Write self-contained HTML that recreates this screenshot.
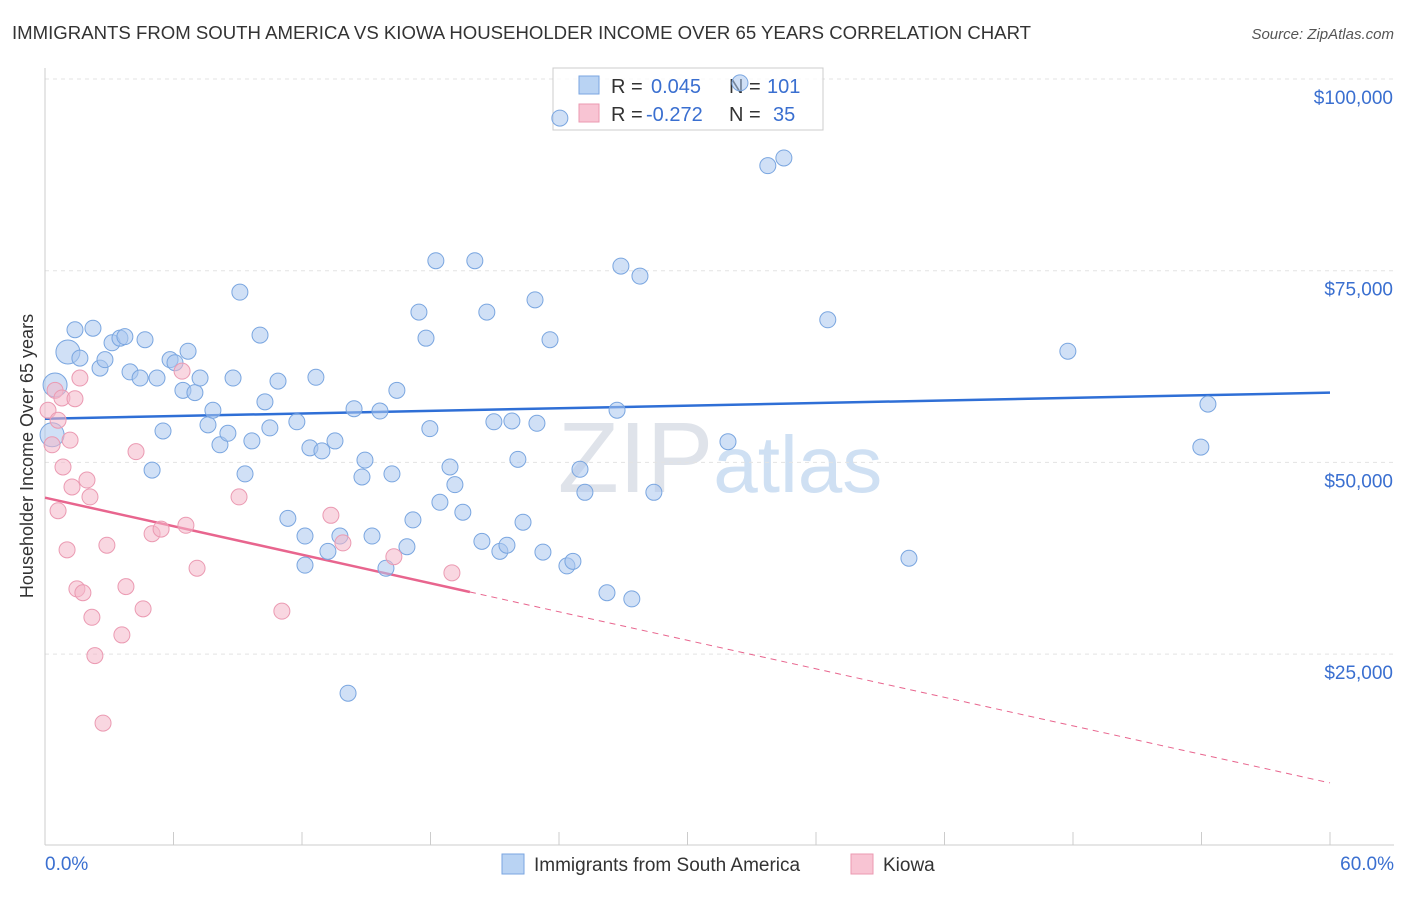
<!DOCTYPE html>
<html><head><meta charset="utf-8"><style>
body{margin:0;background:#fff;font-family:"Liberation Sans",sans-serif}
svg text{font-family:"Liberation Sans",sans-serif}
</style></head><body>
<svg width="1406" height="892" viewBox="0 0 1406 892" xmlns="http://www.w3.org/2000/svg" id="chart">
<text x="12" y="39" font-size="18.6" fill="#333">IMMIGRANTS FROM SOUTH AMERICA VS KIOWA HOUSEHOLDER INCOME OVER 65 YEARS CORRELATION CHART</text>
<text x="1394" y="39" font-size="15" fill="#555" text-anchor="end" font-style="italic">Source: ZipAtlas.com</text>
<text x="33" y="456" font-size="18" fill="#333" text-anchor="middle" transform="rotate(-90 33 456)">Householder Income Over 65 years</text>
<text x="720" y="492" font-size="100" fill="#dfe3ea" text-anchor="middle" font-family="Liberation Serif">ZIP<tspan fill="#cfe0f3" font-family="Liberation Sans" font-size="80">atlas</tspan></text>
<g id="grid"></g><g id="axes"></g>
<g>
<rect x="553" y="68" width="270" height="62" fill="#fff" fill-opacity="0.8" stroke="#ccc"/>
<rect x="579" y="76" width="20" height="18" fill="#b9d3f3" stroke="#7aa6e0"/>
<rect x="579" y="104" width="20" height="18" fill="#f8c4d3" stroke="#eb9ab2"/>
<text x="611" y="93" font-size="20" fill="#333">R =</text>
<text x="651" y="93" font-size="20" fill="#3a6fd0">0.045</text>
<text x="729" y="93" font-size="20" fill="#333">N =</text>
<text x="767" y="93" font-size="20" fill="#3a6fd0">101</text>
<text x="611" y="121" font-size="20" fill="#333">R =</text>
<text x="646" y="121" font-size="20" fill="#3a6fd0">-0.272</text>
<text x="729" y="121" font-size="20" fill="#333">N =</text>
<text x="773" y="121" font-size="20" fill="#3a6fd0">35</text>
</g>
<g id="trends"></g><g id="pts"></g>
<g>
<rect x="502" y="854" width="22" height="20" fill="#b9d3f3" stroke="#7aa6e0"/>
<text x="534" y="871" font-size="19" fill="#333">Immigrants from South America</text>
<rect x="851" y="854" width="22" height="20" fill="#f8c4d3" stroke="#eb9ab2"/>
<text x="883" y="871" font-size="19" fill="#333">Kiowa</text>
</g>
</svg>
<script>
const blueX=[.47,.33,1.07,1.63,1.40,2.24,2.57,2.80,3.13,3.50,3.73,3.97,4.44,4.67,5.23,5.51,5.00,5.84,6.07,6.44,6.68,7.00,7.24,7.61,7.84,8.17,8.54,8.78,9.10,9.34,9.66,10.04,10.27,10.50,10.88,11.34,11.76,12.14,12.14,12.37,12.65,12.93,13.54,13.77,14.15,14.43,13.21,14.80,14.94,15.27,15.64,15.92,16.20,16.43,16.90,17.18,17.46,17.79,17.97,18.25,18.44,18.91,19.14,19.51,20.07,20.40,20.63,20.96,21.24,21.57,21.80,22.08,22.32,22.88,22.97,23.25,23.58,24.04,24.37,24.65,24.98,25.21,26.24,26.71,26.89,27.40,27.78,28.43,31.89,32.45,33.75,34.50,36.55,40.34,47.76,53.97,54.30];
const blueY=[60.1,53.6,64.4,63.6,67.3,67.5,62.3,63.4,65.6,66.2,66.4,61.8,61.0,66.0,61.0,54.1,49.0,63.4,63.0,59.4,64.5,59.1,61.0,54.9,56.8,52.3,53.8,61.0,72.2,48.5,52.8,66.6,57.9,54.5,60.6,42.7,55.3,36.6,40.4,51.9,61.1,51.5,52.8,40.4,19.9,57.0,38.4,48.1,50.3,40.4,56.7,36.2,48.5,59.4,39.0,42.5,69.6,66.2,54.4,76.3,44.8,49.4,47.1,43.5,76.3,39.7,69.6,55.3,38.4,39.2,55.4,50.4,42.2,71.2,55.1,38.3,66.0,94.9,36.5,37.1,49.1,46.1,33.0,56.8,75.6,32.2,74.3,46.1,52.7,99.5,88.7,89.7,68.6,37.5,64.5,52.0,57.6];
const pinkX=[.14,.33,.47,.61,.79,.61,.84,1.03,1.17,1.26,1.40,1.49,1.63,1.77,1.96,2.10,2.19,2.33,2.71,2.89,3.59,3.78,4.25,4.58,5.00,5.42,6.40,6.58,7.10,9.06,11.06,13.35,13.91,16.29,19.00];
const pinkY=[56.8,52.3,59.4,55.5,58.4,43.7,49.4,38.6,52.9,46.8,58.3,33.5,61.0,33.0,47.7,45.5,29.8,24.8,16.0,39.2,27.5,33.8,51.4,30.9,40.7,41.3,61.9,41.8,36.2,45.5,30.6,43.1,39.5,37.7,35.6];
const yTicks=[25000,50000,75000,100000];
const yTickLabels=["$25,000","$50,000","$75,000","$100,000"];
const blueTrend=[55.7,59.1];
const pinkTrend=[45.4,8.2];
const NS="http://www.w3.org/2000/svg";
const X=v=>45+v/60*1285;
const Y=k=>79+(100-k)*7.668;
function mk(tag,attrs,parent){const e=document.createElementNS(NS,tag);for(const a in attrs)e.setAttribute(a,attrs[a]);document.getElementById(parent).appendChild(e);return e;}
yTicks.forEach((t,i)=>{
 const y=Y(t/1000);
 const l=mk('line',{x1:45,x2:1394,y1:y,y2:y,stroke:'#e3e3e3','stroke-dasharray':'4 4'},'grid');
 
 
 const tx=mk('text',{x:1393,y:y+25,'font-size':19,fill:'#3a6fd0','text-anchor':'end'},'grid');
 tx.textContent=yTickLabels[i];
 
 
});
const ax=mk('line',{x1:45,x2:1394,y1:845,y2:845,stroke:'#ccc'},'axes');


const ay=mk('line',{x1:45,x2:45,y1:68,y2:845,stroke:'#ccc'},'axes');


for(let i=0;i<=10;i++){const t=mk('line',{x1:X(i*6),x2:X(i*6),y1:832,y2:845,stroke:'#ccc'},'axes');
 
 }
const x0=mk('text',{x:45,y:870,'font-size':19,fill:'#3a6fd0'},'axes');x0.textContent='0.0%';


const x1=mk('text',{x:1394,y:870,'font-size':19,fill:'#3a6fd0','text-anchor':'end'},'axes');x1.textContent='60.0%';


function pts(xs,ys,fill,stroke,name){xs.forEach((x,i)=>{const r=(x<1.2&&name==='blue-point')?12:8;
 const c=mk('circle',{cx:X(x),cy:Y(ys[i]),r:r,fill:fill,'fill-opacity':0.55,stroke:stroke,'stroke-width':1},'pts');
 
 });}
pts(blueX,blueY,'#a9c7ef','#7aa6e0','blue-point');
pts(pinkX,pinkY,'#f4b6c8','#eb9ab2','pink-point');
const bt=mk('line',{x1:X(0),y1:Y(blueTrend[0]),x2:X(60),y2:Y(blueTrend[1]),stroke:'#2f6fd6','stroke-width':2.5},'trends');


const pk=x=>pinkTrend[0]+(pinkTrend[1]-pinkTrend[0])*x/60;
const ps=mk('line',{x1:X(0),y1:Y(pk(0)),x2:X(19.84),y2:Y(pk(19.84)),stroke:'#e8658e','stroke-width':2.5},'trends');


const pd=mk('line',{x1:X(19.84),y1:Y(pk(19.84)),x2:X(60),y2:Y(pk(60)),stroke:'#e8658e','stroke-width':1,'stroke-dasharray':'6 5'},'trends');


</script>
</body></html>
